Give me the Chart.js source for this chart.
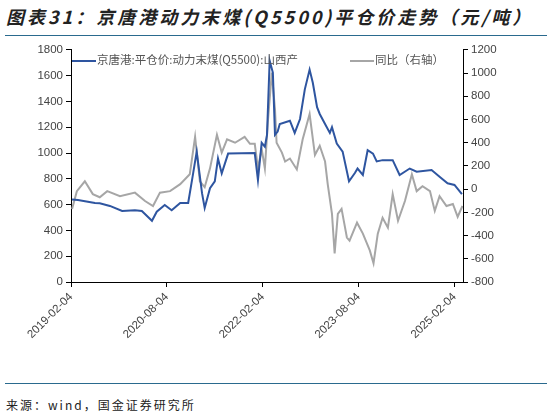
<!DOCTYPE html>
<html><head><meta charset="utf-8">
<script src="https://cdn.jsdelivr.net/npm/chart.js@4"></script>
<style>
body{margin:0;width:547px;height:416px;background:#fff;position:relative;overflow:hidden;font-family:"Noto Sans CJK SC",sans-serif}
#title{position:absolute;left:6px;top:3px;font-size:18px;font-weight:bold;font-style:italic;color:#222;letter-spacing:3px;white-space:nowrap}
.rule{position:absolute;left:5px;width:542px;height:1px;background:#2a6a8e}
#src{position:absolute;left:6px;top:396px;font-size:12px;color:#222;letter-spacing:2px}
#wrap{position:absolute;left:0;top:40px;width:547px;height:330px}
.lg{position:absolute;top:51px;font-size:11.5px;color:#555;white-space:nowrap}
.lg i{display:inline-block;width:24px;height:2px;vertical-align:middle;margin-right:1px}
</style></head><body>
<div id="title">图表31：京唐港动力末煤(Q5500)平仓价走势（元/吨）</div>
<div class="rule" style="top:35px"></div>
<div id="wrap"><canvas id="c"></canvas></div>
<div class="lg" style="left:72px"><i style="background:#2e55a0"></i>京唐港:平仓价:动力末煤(Q5500):山西产</div>
<div class="lg" style="left:350px"><i style="background:#a6a6a6"></i>同比（右轴）</div>
<div class="rule" style="top:383px"></div>
<div id="src">来源：wind，国金证券研究所</div>
<script>
// x values: months since 2019-02
var tickLabels = ['2019-02-04', '2020-08-04', '2022-02-04', '2023-08-04', '2025-02-04'];
var priceMonths = [0.2,1.3,4.5,5.4,7.3,9.6,12.0,13.3,15.2,16.1,17.6,18.9,20.5,22.0,22.9,23.6,24.6,25.1,26.1,27.0,27.6,28.3,29.5,34.5,35.1,35.8,36.4,36.8,37.3,37.9,38.3,38.8,39.2,41.1,42.0,43.0,43.9,44.8,45.4,46.2,46.7,47.7,48.6,49.0,49.9,51.0,52.2,53.3,53.8,54.8,55.7,56.7,57.4,58.5,60.4,61.7,63.6,64.9,67.7,69.2,70.7,72.0,73.4];
var priceValues = [640,636,613,610,590,551,556,551,475,545,597,556,613,613,835,1011,689,574,728,781,958,842,996,1000,790,1080,1050,1141,1716,1624,1141,1167,1225,1251,1156,1264,1494,1647,1545,1356,1303,1225,1156,1200,1073,1011,781,845,880,830,1022,996,935,945,945,830,880,855,868,817,766,753,681];
var yoyMonths = [0.2,1.1,2.6,4.1,5.4,6.8,9.2,12.0,13.9,15.4,16.7,18.6,20.5,22.3,23.3,24.2,25.1,26.1,27.4,28.3,29.3,30.8,32.6,33.6,34.5,35.1,35.8,36.4,37.0,37.7,38.3,38.6,39.6,40.2,41.1,42.4,43.5,44.8,45.8,46.7,47.7,48.2,49.0,49.5,50.1,50.8,51.8,52.3,53.7,54.8,56.1,56.8,57.6,58.5,59.5,60.4,61.4,62.7,64.0,64.9,66.0,67.4,68.3,69.2,70.5,71.7,72.6,73.5];
var yoyValues = [-170,-17,68,-43,-70,-17,-60,-30,-102,-145,-30,-17,43,128,451,68,17,179,468,315,430,400,451,391,391,179,347,179,604,1004,689,400,315,238,264,170,430,647,294,374,238,43,-213,-553,-213,-170,-417,-443,-289,-383,-528,-638,-383,-247,-332,-43,-272,-102,128,-17,26,-17,-187,-60,-145,-128,-238,-145];

function pts(xs, ys) { return xs.map(function(x, i) { return { x: x, y: ys[i] }; }); }
function plain(v) { return String(v); }

var tickFont = { family: 'Liberation Sans, Arial, sans-serif', size: 11.5 };
var axisGrid = { display: true, drawOnChartArea: false, drawTicks: true, tickLength: 5, color: '#000' };

new Chart(document.getElementById('c'), {
  type: 'line',
  data: {
    datasets: [
      { data: pts(priceMonths, priceValues), borderColor: '#2e55a0', borderWidth: 2, pointRadius: 0, tension: 0, yAxisID: 'y' },
      { data: pts(yoyMonths, yoyValues), borderColor: '#a6a6a6', borderWidth: 2, pointRadius: 0, tension: 0, yAxisID: 'y2' }
    ]
  },
  options: {
    responsive: true, maintainAspectRatio: false, animation: false,
    layout: { padding: { top: 7, left: 0, right: 0, bottom: 0 } },
    plugins: { legend: { display: false }, tooltip: { enabled: false } },
    scales: {
      x: {
        type: 'linear', min: 0, max: 73.6,
        afterBuildTicks: function(s) { s.ticks = [0, 18, 36, 54, 72].map(function(v) { return { value: v }; }); },
        ticks: { color: '#444', font: tickFont, maxRotation: 45, minRotation: 45, autoSkip: false,
          callback: function(v) { return tickLabels[Math.round(v / 18)]; } },
        grid: axisGrid, border: { color: '#000', width: 1 },
        afterFit: function(s) { s.height = 88; }
      },
      y: {
        position: 'left', min: 0, max: 1800,
        ticks: { stepSize: 200, color: '#444', font: tickFont, callback: plain },
        grid: axisGrid, border: { color: '#000', width: 1 },
        afterFit: function(s) { s.width = 71; }
      },
      y2: {
        position: 'right', min: -800, max: 1200,
        ticks: { stepSize: 200, color: '#444', font: tickFont, callback: plain },
        grid: axisGrid, border: { color: '#000', width: 1 },
        afterFit: function(s) { s.width = 84; }
      }
    }
  }
});
</script>
</body></html>
